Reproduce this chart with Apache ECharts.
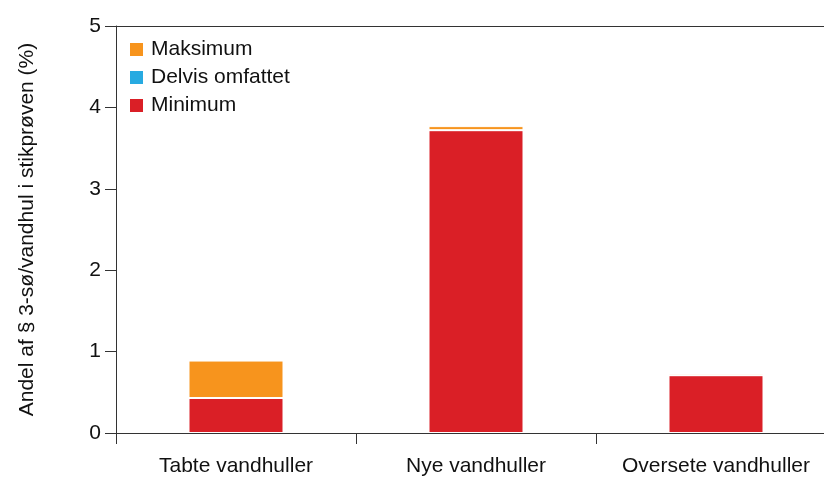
<!DOCTYPE html>
<html>
<head>
<meta charset="utf-8">
<script src="https://cdn.jsdelivr.net/npm/echarts@6/dist/echarts.min.js"></script>
<style>
  html, body { margin: 0; padding: 0; background: #fff; overflow: hidden; }
  /* akse fortsætter ud over billedets højre kant */
  #chart { width: 836px; height: 477px; }
</style>
</head>
<body>
<div id="chart"></div>
<script>
// kategorier og værdier (%)
var categories = ['Tabte vandhuller', 'Nye vandhuller', 'Oversete vandhuller'];
var minimum = [0.43, 3.72, 0.71];
var delvis = [0, 0, 0];
var maksimum = [0.46, 0.05, 0.02];
var yTicks = [0, 1, 2, 3, 4, 5];

var font = 'Liberation Sans, Arial, Helvetica, sans-serif';
var axisColor = '#333';

var chart = echarts.init(document.getElementById('chart'));

function barSeries(name, data, color) {
  return {
    name: name,
    type: 'bar',
    stack: 'total',
    barWidth: 95,
    data: data,
    itemStyle: { color: color, borderColor: '#fff', borderWidth: 1 },
    emphasis: { disabled: true }
  };
}

chart.setOption({
  animation: false,
  textStyle: { fontFamily: font },
  grid: { left: 116, top: 26, right: 0, bottom: 41, containLabel: false },
  legend: {
    orient: 'vertical',
    left: 123,
    top: 34,
    itemWidth: 15,
    itemHeight: 15,
    itemGap: 7,
    icon: 'rect',
    data: ['Maksimum', 'Delvis omfattet', 'Minimum'],
    textStyle: { fontSize: 21, color: '#111', fontFamily: font, padding: [0, 0, 0, 2] }
  },
  xAxis: [
    {
      type: 'category',
      data: categories,
      position: 'bottom',
      axisLine: { lineStyle: { color: axisColor, width: 1 } },
      axisTick: { show: true, interval: 0, length: 11, lineStyle: { color: axisColor } },
      axisLabel: { interval: 0, fontSize: 21, color: '#111', margin: 23, fontFamily: font },
      splitLine: { show: false }
    },
    {
      // toplinje
      type: 'category',
      data: categories,
      position: 'top',
      axisLine: { lineStyle: { color: axisColor, width: 1 } },
      axisTick: { show: false },
      axisLabel: { show: false }
    }
  ],
  yAxis: {
    type: 'value',
    min: yTicks[0],
    max: yTicks[yTicks.length - 1],
    interval: 1,
    name: 'Andel af § 3-sø/vandhul i stikprøven (%)',
    nameLocation: 'middle',
    nameGap: 78,
    nameTextStyle: { fontSize: 21, color: '#111', fontFamily: font },
    axisLine: { show: true, lineStyle: { color: axisColor, width: 1 } },
    axisTick: { show: true, length: 11, lineStyle: { color: axisColor } },
    axisLabel: { fontSize: 21, color: '#111', margin: 15, fontFamily: font },
    splitLine: { show: false }
  },
  series: [
    barSeries('Minimum', minimum, '#DA1F26'),
    barSeries('Delvis omfattet', delvis, '#27AAE1'),
    barSeries('Maksimum', maksimum, '#F7941D')
  ]
});
</script>
</body>
</html>
